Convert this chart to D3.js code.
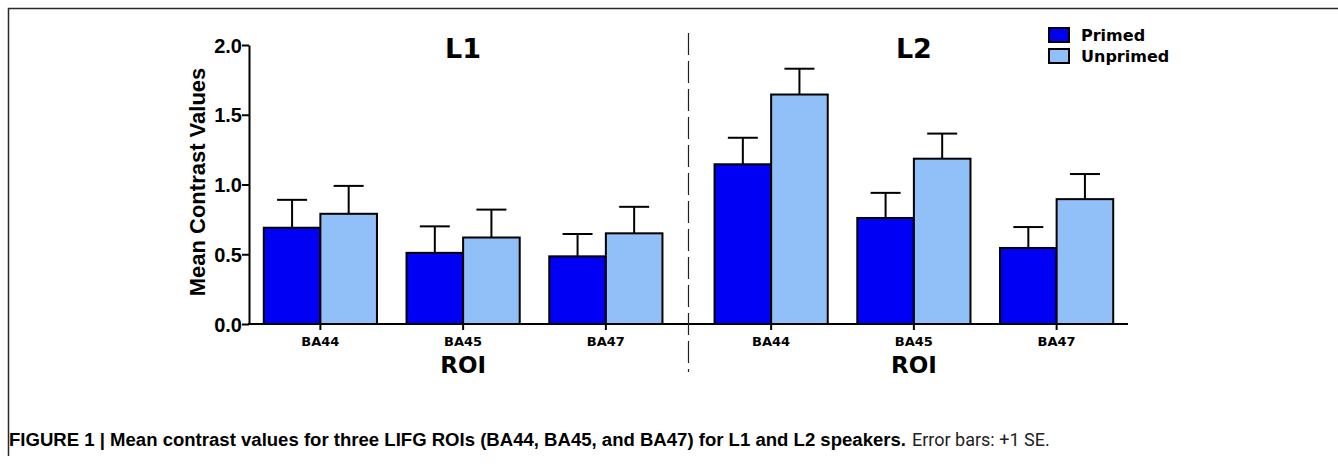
<!DOCTYPE html>
<html>
<head>
<meta charset="utf-8">
<script src="https://cdn.jsdelivr.net/npm/d3@7"></script>
<style>
  body { margin: 0; background: #fff; }
  svg { display: block; }
</style>
</head>
<body>
<div id="chart"></div>
<script>
const groups = ["L1", "L2"];
const rois = ["BA44", "BA45", "BA47"];
const conditions = ["Primed", "Unprimed"];
const l1Primed = [0.69, 0.51, 0.485];
const l1PrimedSE = [0.20, 0.19, 0.16];
const l1Unprimed = [0.79, 0.62, 0.65];
const l1UnprimedSE = [0.20, 0.20, 0.19];
const l2Primed = [1.145, 0.76, 0.545];
const l2PrimedSE = [0.19, 0.18, 0.15];
const l2Unprimed = [1.645, 1.185, 0.895];
const l2UnprimedSE = [0.185, 0.18, 0.18];
const yTicks = [0, 0.5, 1.0, 1.5, 2.0];

const width = 1338;
const height = 464;
const colors = { Primed: "#0000f5", Unprimed: "#91bff7" };

// rows: one per bar
const values = { L1: [l1Primed, l1Unprimed], L2: [l2Primed, l2Unprimed] };
const errors = { L1: [l1PrimedSE, l1UnprimedSE], L2: [l2PrimedSE, l2UnprimedSE] };
const rows = [];
groups.forEach(g => rois.forEach((r, i) => conditions.forEach((c, j) => {
    rows.push({ group: g, roi: r, cond: c, value: values[g][j][i], se: errors[g][j][i] });
})));

const svg = d3.select("#chart").append("svg")
    .attr("width", width)
    .attr("height", height);

// frame
svg.append("path")
    .attr("d", "M8.5,456 V8.5 H1338")
    .attr("fill", "none")
    .attr("stroke", "#2a2a2a")
    .attr("stroke-width", 1.5);

const yScale = d3.scaleLinear().domain([0, 2]).range([324, 45]);

const xPanel = d3.scaleBand().domain(groups).range([249, 1128]).paddingInner(0.05);
const xRoi = d3.scaleBand().domain(rois).range([0, xPanel.bandwidth()])
    .paddingInner(0.207).paddingOuter(0.1035);
const xCond = d3.scaleBand().domain(conditions).range([0, xRoi.bandwidth()]);

const xPos = d => xPanel(d.group) + xRoi(d.roi) + xCond(d.cond);

// bars
svg.selectAll(".bar")
    .data(rows)
    .enter()
    .append("rect")
    .attr("class", "bar")
    .attr("x", d => xPos(d))
    .attr("y", d => yScale(d.value))
    .attr("width", xCond.bandwidth())
    .attr("height", d => yScale(0) - yScale(d.value))
    .attr("fill", d => colors[d.cond])
    .attr("stroke", "#000")
    .attr("stroke-width", 2);

// error bars
const capW = xCond.bandwidth() * 0.53;
const err = svg.selectAll(".err").data(rows).enter().append("g").attr("class", "err")
    .attr("stroke", "#000").attr("stroke-width", 2);
err.append("line")
    .attr("x1", d => xPos(d) + xCond.bandwidth() / 2)
    .attr("x2", d => xPos(d) + xCond.bandwidth() / 2)
    .attr("y1", d => yScale(d.value))
    .attr("y2", d => yScale(d.value + d.se));
err.append("line")
    .attr("x1", d => xPos(d) + xCond.bandwidth() / 2 - capW / 2)
    .attr("x2", d => xPos(d) + xCond.bandwidth() / 2 + capW / 2)
    .attr("y1", d => yScale(d.value + d.se))
    .attr("y2", d => yScale(d.value + d.se));

// y axis
const yAxis = svg.append("g")
    .attr("transform", "translate(249,0)")
    .call(d3.axisLeft(yScale).tickValues(yTicks).tickFormat(d3.format(".1f")).tickSize(7).tickSizeOuter(0));
yAxis.select(".domain").attr("stroke", "#000").attr("stroke-width", 2);
yAxis.selectAll(".tick line").attr("stroke", "#000").attr("stroke-width", 2);
yAxis.selectAll(".tick text")
    .attr("x", -7)
    .attr("dy", "0.36em")
    .style("font-family", "'Liberation Sans', Arial, sans-serif")
    .style("font-weight", "bold")
    .style("font-size", "20px")
    .attr("fill", "#000");

// x axis line
svg.append("line")
    .attr("x1", 248).attr("x2", 1128)
    .attr("y1", yScale(0)).attr("y2", yScale(0))
    .attr("stroke", "#000").attr("stroke-width", 2);

// x axes, one per panel
groups.forEach(g => {
    const ax = svg.append("g")
        .attr("transform", `translate(${xPanel(g)},${yScale(0)})`)
        .call(d3.axisBottom(xRoi).tickSize(6).tickSizeOuter(0));
    ax.select(".domain").remove();
    ax.selectAll(".tick line").attr("stroke", "#000").attr("stroke-width", 2);
    ax.selectAll(".tick text")
        .attr("y", 13)
        .style("font-family", "'DejaVu Sans', Verdana, sans-serif")
        .style("font-weight", "bold")
        .style("font-size", "13px")
        .attr("fill", "#000");

    svg.append("text")
        .attr("x", xPanel(g) + xPanel.bandwidth() / 2)
        .attr("y", 373)
        .attr("text-anchor", "middle")
        .style("font-family", "'DejaVu Sans', Verdana, sans-serif")
        .style("font-weight", "bold")
        .style("font-size", "23px")
        .text("ROI");

    svg.append("text")
        .attr("x", xPanel(g) + xPanel.bandwidth() / 2)
        .attr("y", 58)
        .attr("text-anchor", "middle")
        .style("font-family", "'DejaVu Sans', Verdana, sans-serif")
        .style("font-weight", "bold")
        .style("font-size", "27px")
        .text(g);
});

// dashed divider
const divX = (xPanel("L1") + xPanel.bandwidth() + xPanel("L2")) / 2;
svg.append("line")
    .attr("x1", divX).attr("x2", divX)
    .attr("y1", 33).attr("y2", 372)
    .attr("stroke", "#222")
    .attr("stroke-width", 1.2)
    .attr("stroke-dasharray", "22,6");

// y label
svg.append("text")
    .attr("transform", "translate(205,182) rotate(-90)")
    .attr("text-anchor", "middle")
    .style("font-family", "'Liberation Sans', Arial, sans-serif")
    .style("font-weight", "bold")
    .style("font-size", "22px")
    .text("Mean Contrast Values");

// legend
const legend = svg.selectAll(".legend")
    .data(conditions)
    .enter()
    .append("g")
    .attr("class", "legend")
    .attr("transform", (d, i) => `translate(1049,${28 + i * 21})`);
legend.append("rect")
    .attr("width", 20).attr("height", 14)
    .attr("fill", d => colors[d])
    .attr("stroke", "#000").attr("stroke-width", 2);
legend.append("text")
    .attr("x", 32).attr("y", 13)
    .style("font-family", "'DejaVu Sans', Verdana, sans-serif")
    .style("font-weight", "bold")
    .style("font-size", "16px")
    .text(d => d);

// caption
const cap = svg.append("text")
    .attr("x", 9).attr("y", 446)
    .style("font-size", "18px");
cap.append("tspan")
    .style("font-family", "'Liberation Sans Narrow', 'Liberation Sans', Arial, sans-serif")
    .style("font-weight", "bold")
    .attr("textLength", 897)
    .attr("lengthAdjust", "spacingAndGlyphs")
    .text("FIGURE 1 | Mean contrast values for three LIFG ROIs (BA44, BA45, and BA47) for L1 and L2 speakers.");
cap.append("tspan")
    .attr("x", 912)
    .style("font-family", "Roboto, sans-serif")
    .attr("fill", "#222")
    .text("Error bars: +1 SE.");
</script>
</body>
</html>
